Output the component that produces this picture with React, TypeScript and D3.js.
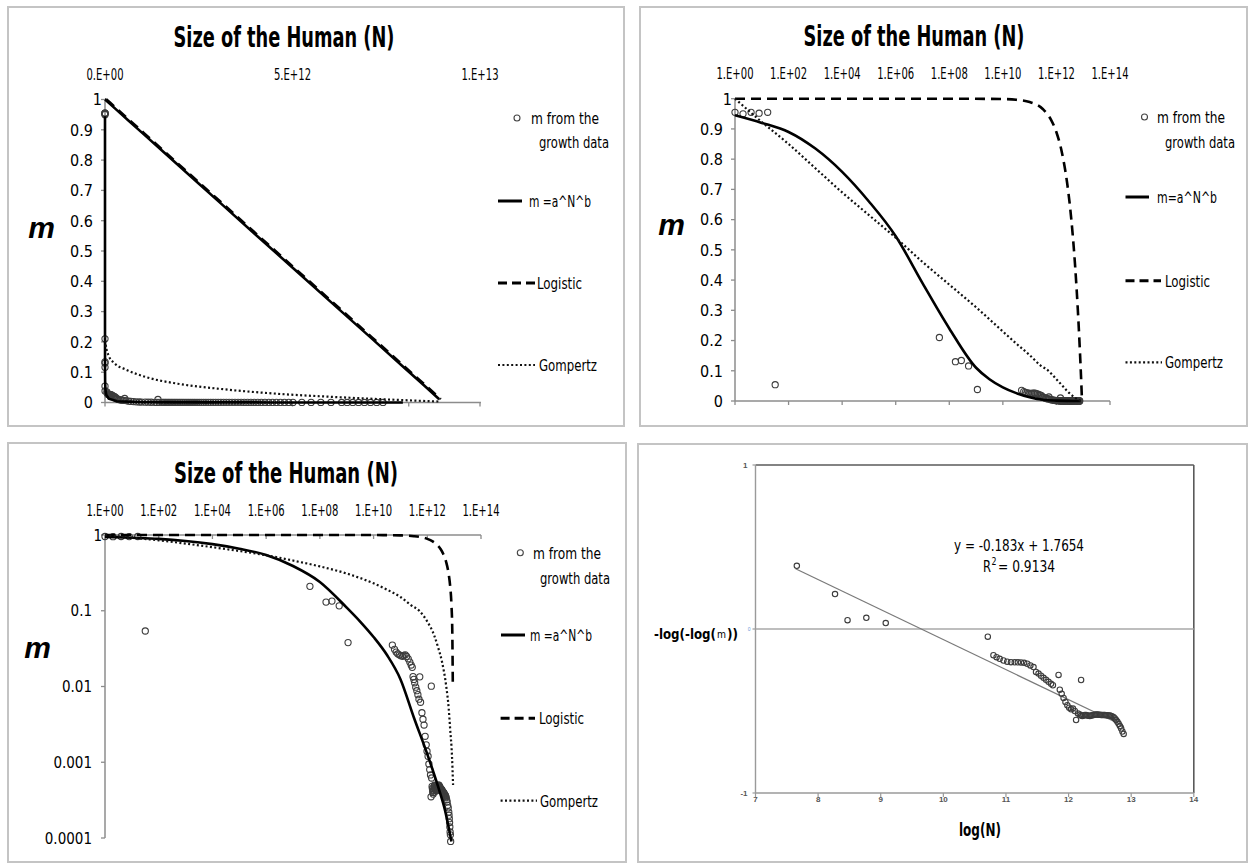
import React from "react";
import * as d3 from "d3";

const W = 1249;
const H = 863;
const NARROW = "'Liberation Sans Narrow','Arial Narrow','DejaVu Sans Condensed',sans-serif";
const SANS = "'Liberation Sans',Arial,sans-serif";
const FRAME = "#c4c4c4";
const AXIS = "#8c8c8c";

// ---------- data ----------
// growth data: [log10(N), m]
const growthData: [number, number][] = [
  [0.0, 0.955], [0.3, 0.95], [0.6, 0.955], [0.9, 0.952], [1.22, 0.955],
  [1.5, 0.054],
  [7.63, 0.21], [8.23, 0.13], [8.45, 0.134], [8.72, 0.116], [9.05, 0.038],
  [10.7, 0.0352], [10.78, 0.031], [10.84, 0.0285], [10.9, 0.027], [10.96, 0.0262], [11.02, 0.0255],
  [11.08, 0.025], [11.13, 0.0258], [11.18, 0.0262], [11.23, 0.025], [11.29, 0.0232], [11.35, 0.021],
  [11.4, 0.0192], [11.44, 0.0179], [11.47, 0.0135], [11.5, 0.0124], [11.53, 0.0112], [11.57, 0.0098],
  [11.61, 0.0088], [11.65, 0.0078], [11.69, 0.0068], [11.72, 0.0134], [11.75, 0.0062],
  [11.8, 0.0045], [11.84, 0.0037], [11.88, 0.0031], [11.92, 0.0022], [11.96, 0.0017], [11.99, 0.0014],
  [12.03, 0.0012], [12.06, 0.00095], [12.09, 0.0008], [12.12, 0.00068], [12.14, 0.00035], [12.15, 0.0101],
  [12.16, 0.00062],
  [12.18, 0.00048], [12.19, 0.00045], [12.2, 0.00042], [12.21, 0.0004], [12.22, 0.00038], [12.23, 0.0004],
  [12.24, 0.00043], [12.25, 0.00046], [12.26, 0.00048], [12.27, 0.0005], [12.28, 0.00049], [12.29, 0.00047],
  [12.3, 0.00045], [12.31, 0.00044], [12.32, 0.00043], [12.33, 0.00042], [12.34, 0.00042], [12.35, 0.00043],
  [12.36, 0.00044], [12.37, 0.00045], [12.38, 0.00046], [12.39, 0.00047], [12.4, 0.00048], [12.41, 0.00049],
  [12.42, 0.0005], [12.43, 0.0005], [12.44, 0.00049], [12.45, 0.00048], [12.46, 0.00047], [12.47, 0.00046],
  [12.48, 0.00046], [12.49, 0.00045], [12.5, 0.00045], [12.51, 0.00044], [12.52, 0.00044], [12.53, 0.00043],
  [12.54, 0.00043], [12.55, 0.00042], [12.56, 0.00042], [12.57, 0.00041], [12.58, 0.00041], [12.59, 0.0004],
  [12.6, 0.0004], [12.61, 0.00039], [12.62, 0.00039], [12.63, 0.00038], [12.64, 0.00038], [12.65, 0.00037],
  [12.66, 0.00037], [12.67, 0.00036], [12.68, 0.00036], [12.69, 0.00035], [12.7, 0.00034],
  [12.72, 0.00032], [12.74, 0.0003], [12.76, 0.00027], [12.78, 0.00025], [12.8, 0.00022], [12.81, 0.0002],
  [12.82, 0.00018], [12.83, 0.00016], [12.84, 0.00014], [12.85, 0.00012], [12.86, 0.00011], [12.87, 0.00009],
];

// m = a^N^b fit: [log10(N), m]
const powerFit: [number, number][] = [
  [0, 0.945], [1, 0.92], [2, 0.89], [3, 0.835], [4, 0.758], [5, 0.66], [6, 0.545], [7, 0.39],
  [8, 0.24], [9, 0.11], [9.5, 0.072], [10, 0.045], [10.5, 0.026], [11, 0.0125], [11.5, 0.0039],
  [12, 0.00128], [12.4, 0.00048], [12.65, 0.00024], [12.9, 0.00009],
];

// logistic fit: [log10(N), m]
const logisticFit: [number, number][] = [
  [0, 1], [2, 1], [4, 1], [6, 1], [8, 1], [10, 0.999], [10.5, 0.9965], [11, 0.989], [11.5, 0.965],
  [11.8, 0.93], [12, 0.889], [12.2, 0.824], [12.4, 0.721], [12.5, 0.649], [12.6, 0.558], [12.7, 0.444],
  [12.8, 0.3], [12.85, 0.215], [12.9, 0.119], [12.93, 0.056], [12.95, 0.011],
];

// Gompertz fit: [log10(N), m]
const gompertzFit: [number, number][] = [
  [0, 1], [1, 0.923], [2, 0.85], [3, 0.77], [4, 0.69], [5, 0.615], [6, 0.54], [7, 0.46], [8, 0.385],
  [9, 0.31], [10, 0.23], [10.5, 0.19], [11, 0.152], [11.4, 0.118], [11.7, 0.1], [12, 0.072],
  [12.26, 0.047], [12.4, 0.033], [12.55, 0.021], [12.7, 0.0104], [12.8, 0.005], [12.85, 0.0028],
  [12.92, 0.0012], [12.96, 0.0005],
];

// Gompertz as seen on the linear panel: [N in units of 1e12, m]
const gompertzLinear: [number, number][] = [
  [0, 0.22], [0.02, 0.19], [0.1, 0.154], [0.25, 0.13], [0.57, 0.108], [1.09, 0.084], [1.94, 0.062],
  [2.99, 0.046], [4.57, 0.029], [6.15, 0.018], [7.73, 0.009], [8.94, 0.003],
];

// transformed data: [log(N), -log(-log(m))]
const transformedData: [number, number][] = [
  [7.66, 0.385], [8.27, 0.213], [8.47, 0.054], [8.77, 0.068], [9.08, 0.036],
  [10.71, -0.047], [10.8, -0.16], [10.85, -0.172], [10.9, -0.182], [10.96, -0.192], [11.02, -0.199],
  [11.08, -0.202], [11.14, -0.203], [11.19, -0.203], [11.24, -0.204], [11.29, -0.206], [11.34, -0.212],
  [11.39, -0.222], [11.44, -0.232], [11.48, -0.262], [11.52, -0.272], [11.56, -0.285], [11.6, -0.298],
  [11.64, -0.31], [11.68, -0.322], [11.72, -0.334], [11.75, -0.343],
  [11.84, -0.28], [12.2, -0.311],
  [11.86, -0.37], [11.89, -0.395], [11.92, -0.42], [11.95, -0.445], [11.98, -0.465], [12.01, -0.48],
  [12.04, -0.49], [12.07, -0.485], [12.1, -0.5], [12.12, -0.555], [12.15, -0.515],
  [12.18, -0.522], [12.2, -0.528], [12.22, -0.53], [12.24, -0.527], [12.26, -0.524], [12.28, -0.525],
  [12.3, -0.527], [12.32, -0.529], [12.34, -0.53], [12.36, -0.528], [12.38, -0.526], [12.4, -0.524],
  [12.42, -0.523], [12.44, -0.522], [12.46, -0.522], [12.48, -0.523], [12.5, -0.523], [12.52, -0.524],
  [12.54, -0.524], [12.56, -0.525], [12.58, -0.525], [12.6, -0.526], [12.62, -0.526], [12.64, -0.527],
  [12.66, -0.528], [12.68, -0.53], [12.7, -0.533], [12.72, -0.538], [12.74, -0.545], [12.76, -0.555],
  [12.78, -0.566], [12.8, -0.578], [12.82, -0.592], [12.84, -0.607], [12.86, -0.625], [12.88, -0.64],
];

const trendSlope = -0.183;
const trendIntercept = 1.7654;
const trendRange = [7.64, 12.88];
const trendLabel = "y = -0.183x + 1.7654";

const titleText = "Size of the Human (N)";
const linTickValues = [0, 5e12, 1e13];
const linTickLabels = ["0.E+00", "5.E+12", "1.E+13"];
const linTickMarks = [0, 5e12, 8.1e12, 1e13];
const logTickValues = [0, 2, 4, 6, 8, 10, 12, 14];
const logTickLabels = ["1.E+00", "1.E+02", "1.E+04", "1.E+06", "1.E+08", "1.E+10", "1.E+12", "1.E+14"];
const mTickValues = [0, 0.1, 0.2, 0.3, 0.4, 0.5, 0.6, 0.7, 0.8, 0.9, 1];
const mTickLabels = ["0", "0.1", "0.2", "0.3", "0.4", "0.5", "0.6", "0.7", "0.8", "0.9", "1"];
const logMTickValues = [1, 0.1, 0.01, 0.001, 0.0001];
const logMTickLabels = ["1", "0.1", "0.01", "0.001", "0.0001"];
const p4XTicks = [7, 8, 9, 10, 11, 12, 13, 14];
const p4YTicks = [-1, 0, 1];
const p4YLabels = ["-1", "0", "1"];

// ---------- scales ----------
const xs1 = d3.scaleLinear().domain([0, 1e13]).range([105, 480]);
const ys1 = d3.scaleLinear().domain([0, 1]).range([402.5, 99.5]);
const xs2 = d3.scaleLinear().domain([0, 14]).range([735, 1110]);
const ys2 = d3.scaleLinear().domain([0, 1]).range([401, 98.7]);
const xs3 = d3.scaleLinear().domain([0, 14]).range([105, 481]);
const ys3 = d3.scaleLog().domain([1e-4, 1]).range([838, 535]);
const xs4 = d3.scaleLinear().domain([7, 14]).range([755.5, 1193.8]);
const ys4 = d3.scaleLinear().domain([-1, 1]).range([793, 465]);

const SOLID = { stroke: "#000", strokeWidth: 2.6, fill: "none" };
const DASHED = { stroke: "#000", strokeWidth: 2.6, fill: "none", strokeDasharray: "10 6" };
const DOTTED = { stroke: "#111", strokeWidth: 2.2, fill: "none", strokeDasharray: "2 2.4" };

function Txt(props: any) {
  const { x, y, w, size = 16, anchor = "start", weight = "normal", italic = false, family = NARROW, fill = "#000", children } = props;
  return (
    <text
      x={x}
      y={y}
      fontSize={size}
      fontFamily={family}
      fontWeight={weight}
      fontStyle={italic ? "italic" : "normal"}
      textAnchor={anchor}
      fill={fill}
      textLength={w}
      lengthAdjust={w ? "spacingAndGlyphs" : undefined}
    >
      {children}
    </text>
  );
}

function Legend(p: any) {
  const fs = p.fs || 16;
  return (
    <g>
      <circle cx={p.cx} cy={p.cy} r={3} fill="none" stroke="#444" strokeWidth={1.1} />
      <Txt x={p.fromX} y={p.cy + 6} size={fs} w={68}>m from the</Txt>
      <Txt x={p.growthX} y={p.growthY + 6} size={fs} w={70}>growth data</Txt>
      <line x1={p.sx0} x2={p.sx1} y1={p.sy} y2={p.sy} {...SOLID} strokeWidth={3} />
      <Txt x={p.stx} y={p.sy + 6} size={fs} w={p.sw}>{p.sLabel}</Txt>
      <line x1={p.lx0} x2={p.lx1} y1={p.ly} y2={p.ly} {...DASHED} strokeWidth={3} strokeDasharray="9 5" />
      <Txt x={p.ltx} y={p.ly + 6} size={fs} w={45}>Logistic</Txt>
      <line x1={p.gx0} x2={p.gx1} y1={p.gy} y2={p.gy} {...DOTTED} />
      <Txt x={p.gtx} y={p.gy + 6} size={fs} w={58}>Gompertz</Txt>
    </g>
  );
}

function Points({ data, fx, fy, r = 3.1 }: any) {
  return (
    <g>
      {data.map((d: [number, number], i: number) => (
        <circle key={i} cx={fx(d)} cy={fy(d)} r={r} fill="none" stroke="#3c3c3c" strokeWidth={1.1} />
      ))}
    </g>
  );
}

function Panel1() {
  const lx = (d: [number, number]) => xs1(Math.pow(10, d[0]));
  const line = d3.line<[number, number]>().x(lx).y((d) => ys1(d[1]));
  const gLine = d3
    .line<[number, number]>()
    .x((d) => xs1(d[0] * 1e12))
    .y((d) => ys1(d[1]))
    .curve(d3.curveMonotoneX);
  return (
    <g>
      <rect x={8} y={7} width={616} height={419} fill="#fff" stroke={FRAME} strokeWidth={2} />
      <Txt x={284} y={46.5} size={29} weight="bold" anchor="middle" w={221}>{titleText}</Txt>
      {linTickValues.map((v, i) => (
        <Txt key={i} x={xs1(v)} y={80} size={16} anchor="middle" w={37}>{linTickLabels[i]}</Txt>
      ))}
      {mTickValues.map((v, i) => (
        <g key={i}>
          <line x1={101} x2={105} y1={ys1(v)} y2={ys1(v)} stroke={AXIS} strokeWidth={1.3} />
          <Txt x={v === 1 ? 102 : 93} y={ys1(v) + 5.8} size={16} anchor="end">{mTickLabels[i]}</Txt>
        </g>
      ))}
      {linTickMarks.map((v, i) => (
        <line key={i} x1={xs1(v)} x2={xs1(v)} y1={ys1(0)} y2={ys1(0) + 4} stroke={AXIS} strokeWidth={1.3} />
      ))}
      <line x1={105} x2={105} y1={ys1(1)} y2={ys1(0)} stroke={AXIS} strokeWidth={1.5} />
      <line x1={105} x2={481} y1={ys1(0)} y2={ys1(0)} stroke={AXIS} strokeWidth={1.5} />
      <Points data={growthData} fx={lx} fy={(d: [number, number]) => ys1(d[1])} />
      <path d={line(powerFit) || ""} {...SOLID} />
      <path d={line(logisticFit) || ""} {...SOLID} />
      <path d={line(logisticFit) || ""} {...DASHED} transform="translate(1.5,0)" />
      <path d={gLine(gompertzLinear) || ""} {...DOTTED} />
      <Txt x={41.5} y={238} size={30} weight="bold" italic anchor="middle" family={SANS}>m</Txt>
      <Legend
        cx={517} cy={118} fromX={531} growthX={539} growthY={142}
        sx0={498} sx1={522} sy={201} stx={529} sLabel="m =a^N^b" sw={62}
        lx0={498} lx1={535} ly={283} ltx={537}
        gx0={498} gx1={535} gy={365} gtx={539}
      />
    </g>
  );
}

function Panel2() {
  const lx = (d: [number, number]) => xs2(d[0]);
  const line = d3.line<[number, number]>().x(lx).y((d) => ys2(d[1])).curve(d3.curveMonotoneX);
  return (
    <g>
      <rect x={640} y={7} width={607} height={419} fill="#fff" stroke={FRAME} strokeWidth={2} />
      <Txt x={914} y={46} size={29} weight="bold" anchor="middle" w={221}>{titleText}</Txt>
      {logTickValues.map((v, i) => (
        <g key={i}>
          <Txt x={xs2(v)} y={79} size={16} anchor="middle" w={37}>{logTickLabels[i]}</Txt>
          <line x1={xs2(v)} x2={xs2(v)} y1={ys2(0)} y2={ys2(0) + 4} stroke={AXIS} strokeWidth={1.3} />
        </g>
      ))}
      {mTickValues.map((v, i) => (
        <g key={i}>
          <line x1={731} x2={735} y1={ys2(v)} y2={ys2(v)} stroke={AXIS} strokeWidth={1.3} />
          <Txt x={v === 1 ? 732 : 723} y={ys2(v) + 5.8} size={16} anchor="end">{mTickLabels[i]}</Txt>
        </g>
      ))}
      <line x1={735} x2={735} y1={ys2(1)} y2={ys2(0)} stroke={AXIS} strokeWidth={1.5} />
      <line x1={735} x2={1110} y1={ys2(0)} y2={ys2(0)} stroke={AXIS} strokeWidth={1.5} />
      <Points data={growthData} fx={lx} fy={(d: [number, number]) => ys2(d[1])} />
      <path d={line(powerFit) || ""} {...SOLID} />
      <path d={line(logisticFit) || ""} {...DASHED} />
      <path d={line(gompertzFit) || ""} {...DOTTED} />
      <Txt x={671.5} y={235} size={30} weight="bold" italic anchor="middle" family={SANS}>m</Txt>
      <Legend
        fs={15}
        cx={1144.5} cy={117} fromX={1157} growthX={1165} growthY={141.7}
        sx0={1125.5} sx1={1149} sy={197} stx={1157} sLabel="m=a^N^b" sw={60}
        lx0={1125.5} lx1={1161} ly={280.7} ltx={1165}
        gx0={1125.5} gx1={1162} gy={362.3} gtx={1165}
      />
    </g>
  );
}

function Panel3() {
  const lx = (d: [number, number]) => xs3(d[0]);
  const line = d3.line<[number, number]>().x(lx).y((d) => ys3(d[1])).curve(d3.curveMonotoneX);
  return (
    <g>
      <rect x={8} y={443} width={618} height={419} fill="#fff" stroke={FRAME} strokeWidth={2} />
      <Txt x={286} y={483} size={29} weight="bold" anchor="middle" w={224}>{titleText}</Txt>
      {logTickValues.map((v, i) => (
        <g key={i}>
          <Txt x={xs3(v)} y={516} size={16} anchor="middle" w={37}>{logTickLabels[i]}</Txt>
          <line x1={xs3(v)} x2={xs3(v)} y1={ys3(1)} y2={ys3(1) + 4} stroke={AXIS} strokeWidth={1.3} />
        </g>
      ))}
      {logMTickValues.map((v, i) => (
        <g key={i}>
          <line x1={101} x2={105} y1={ys3(v)} y2={ys3(v)} stroke={AXIS} strokeWidth={1.3} />
          <Txt x={v === 1 ? 102 : 92} y={ys3(v) + 5.5} size={15} anchor="end">{logMTickLabels[i]}</Txt>
        </g>
      ))}
      <line x1={105} x2={105} y1={ys3(1)} y2={ys3(1e-4)} stroke={AXIS} strokeWidth={1.5} />
      <line x1={105} x2={481} y1={ys3(1)} y2={ys3(1)} stroke={AXIS} strokeWidth={1.5} />
      <Points data={growthData} fx={lx} fy={(d: [number, number]) => ys3(d[1])} />
      <path d={line(powerFit) || ""} {...SOLID} />
      <path d={line(logisticFit) || ""} {...DASHED} />
      <path d={line(gompertzFit) || ""} {...DOTTED} />
      <Txt x={37.5} y={658} size={30} weight="bold" italic anchor="middle" family={SANS}>m</Txt>
      <Legend
        cx={520.3} cy={552.7} fromX={533} growthX={540} growthY={578.3}
        sx0={501} sx1={525} sy={635} stx={530} sLabel="m =a^N^b" sw={62}
        lx0={500.6} lx1={535} ly={718.3} ltx={539}
        gx0={500.6} gx1={537} gy={800.7} gtx={540}
      />
    </g>
  );
}

function Panel4() {
  const trend: [number, number][] = trendRange.map((x) => [x, trendSlope * x + trendIntercept]);
  const line = d3.line<[number, number]>().x((d) => xs4(d[0])).y((d) => ys4(d[1]));
  const x0 = xs4(7);
  const x1 = xs4(14);
  const yTop = ys4(1);
  const yBot = ys4(-1);
  return (
    <g>
      <rect x={638} y={444} width={609} height={418} fill="#fff" stroke={FRAME} strokeWidth={2} />
      <line x1={x0} x2={x1} y1={yTop} y2={yTop} stroke="#5a5a5a" strokeWidth={1.6} />
      <line x1={x1} x2={x1} y1={yTop} y2={yBot} stroke="#5a5a5a" strokeWidth={1.6} />
      <line x1={x0} x2={x1} y1={yBot} y2={yBot} stroke="#9a9a9a" strokeWidth={1.4} />
      <line x1={x0} x2={x0} y1={yTop} y2={yBot} stroke="#9a9a9a" strokeWidth={1.4} />
      <line x1={x0} x2={x1} y1={ys4(0)} y2={ys4(0)} stroke="#a8a8a8" strokeWidth={1.6} />
      {p4XTicks.map((v) => (
        <g key={v}>
          <line x1={xs4(v)} x2={xs4(v)} y1={yBot} y2={yBot + 4} stroke="#9a9a9a" strokeWidth={1.2} />
          <Txt x={xs4(v)} y={yBot + 9} size={8} anchor="middle" weight="bold" fill="#555" family={SANS}>{String(v)}</Txt>
        </g>
      ))}
      {p4YTicks.map((v, i) => (
        <g key={v}>
          <line x1={x0 - 3} x2={x0} y1={ys4(v)} y2={ys4(v)} stroke="#9a9a9a" strokeWidth={1.2} />
          {v === 0 ? (
            <Txt x={x0 - 5} y={ys4(v) + 2} size={5} anchor="end" fill="#6a98d8" family={SANS}>{p4YLabels[i]}</Txt>
          ) : (
            <Txt x={x0 - 8} y={ys4(v) + 3} size={8} anchor="end" weight="bold" fill="#555" family={SANS}>{p4YLabels[i]}</Txt>
          )}
        </g>
      ))}
      <path d={line(trend) || ""} fill="none" stroke="#7a7a7a" strokeWidth={1.3} />
      <Points
        data={transformedData}
        fx={(d: [number, number]) => xs4(d[0])}
        fy={(d: [number, number]) => ys4(d[1])}
        r={2.7}
      />
      <Txt x={1019} y={551} size={16} anchor="middle" w={130}>{trendLabel}</Txt>
      <Txt x={983} y={572} size={16} w={8}>R</Txt>
      <Txt x={991.5} y={565} size={10} w={5}>2</Txt>
      <Txt x={998} y={572} size={16} w={57}>= 0.9134</Txt>
      <Txt x={654} y={639} size={13.5} weight="bold" w={62}>-log(-log(</Txt>
      <Txt x={717} y={638} size={10} w={9}>m</Txt>
      <Txt x={727} y={639} size={13.5} weight="bold" w={11}>))</Txt>
      <Txt x={980} y={836} size={17} weight="bold" anchor="middle" w={42}>log(N)</Txt>
    </g>
  );
}

export default function App() {
  return (
    <svg width={W} height={H} style={{ position: "absolute", left: 0, top: 0, background: "#fff" }}>
      <rect x={0} y={0} width={W} height={H} fill="#fff" />
      <Panel1 />
      <Panel2 />
      <Panel3 />
      <Panel4 />
    </svg>
  );
}
